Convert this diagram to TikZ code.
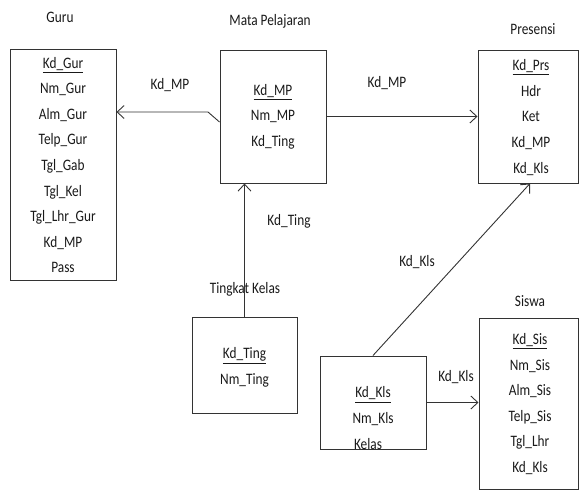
\documentclass[tikz,border=0pt]{standalone}
\usepackage{fontspec}
\setmainfont{Carlito}
\usetikzlibrary{positioning,arrows.meta,calc}

\tikzset{
	entity/.style={draw=black!80,line width=1pt,inner sep=0pt},
	attrs/.style={align=center,inner sep=0pt,yscale=1.2,text=black!90,font=\fontsize{13.3pt}{21.3pt}\selectfont},
	title/.style={inner sep=0pt,yscale=1.2,text=black!90,font=\fontsize{13.3pt}{16pt}\selectfont},
	link/.style={draw=black!80,line width=0.9pt,-{Straight Barb[length=7pt,width=13pt]}}
}

\begin{document}
\begin{tikzpicture}[x=1pt,y=1pt]
		\useasboundingbox (0,0) rectangle (579,-490);
		% entities
		\node(guru) [entity,minimum width=106pt,minimum height=231pt] at (63,-164.5) {};
		\node(mapel) [entity,minimum width=106pt,minimum height=133pt] at (273,-116.5) {};
		\node(presensi) [entity,minimum width=100pt,minimum height=133pt] at (528,-116.5) {};
		\node(tingkat) [entity,minimum width=105pt,minimum height=96pt] at (244.5,-365) {};
		\node(kelas) [entity,minimum width=106pt,minimum height=93pt] at (373,-402.5) {};
		\node(siswa) [entity,minimum width=99pt,minimum height=171pt] at (528.5,-403.5) {};
		% titles
		\node(guru-t) [title] at ([xshift=-3pt,yshift=31pt]guru.north) {Guru};
		\node(mapel-t) [title] at ([xshift=-3pt,yshift=28pt]mapel.north) {Mata Pelajaran};
		\node(presensi-t) [title] at ([xshift=5pt,yshift=20pt]presensi.north) {Presensi};
		\node(tingkat-t) [title] at ([xshift=0.5pt,yshift=27pt]tingkat.north) {Tingkat Kelas};
		\node(siswa-t) [title] at ([xshift=1.5pt,yshift=16pt]siswa.north) {Siswa};
		% attributes
		\node(guru-a) [attrs] at ([yshift=-0.5pt]guru.center) {\underline{Kd\_Gur}\\Nm\_Gur\\Alm\_Gur\\Telp\_Gur\\Tgl\_Gab\\Tgl\_Kel\\Tgl\_Lhr\_Gur\\Kd\_MP\\Pass};
		\node(mapel-a) [attrs] at (mapel.center) {\underline{Kd\_MP}\\Nm\_MP\\Kd\_Ting};
		\node(presensi-a) [attrs] at ([xshift=3pt,yshift=-1pt]presensi.center) {\underline{Kd\_Prs}\\Hdr\\Ket\\Kd\_MP\\Kd\_Kls};
		\node(tingkat-a) [attrs] at ([yshift=-2.5pt]tingkat.center) {\underline{Kd\_Ting}\\Nm\_Ting};
		\node(kelas-a) [attrs] at ([yshift=-15.5pt]kelas.center) {\underline{Kd\_Kls}\\Nm\_Kls\\Kelas\rule{10pt}{0pt}};
		\node(siswa-a) [attrs] at ([xshift=1.5pt,yshift=-0.5pt]siswa.center) {\underline{Kd\_Sis}\\Nm\_Sis\\Alm\_Sis\\Telp\_Sis\\Tgl\_Lhr\\Kd\_Kls};
		% relations
		\coordinate(bend) at (208,-112);
		\draw [link] ([yshift=-5.5pt]mapel.west) -- (bend) -- (bend -| guru.east);
		\draw [link] (mapel.east) -- (presensi.west);
		\draw [link] (tingkat.north) -- (tingkat.north |- mapel.south);
		\draw [link] (kelas.north) -- ([xshift=2pt]presensi.south);
		\draw [link] (kelas.east) -- (kelas.east -| siswa.west);
		% relation labels
		\node(r1) [title] at (170,-85) {Kd\_MP};
		\node(r2) [title] at (387,-83) {Kd\_MP};
		\node(r3) [title] at (289,-221) {Kd\_Ting};
		\node(r4) [title] at (417,-262) {Kd\_Kls};
		\node(r5) [title] at (456,-377) {Kd\_Kls};
	\end{tikzpicture}
\end{document}
